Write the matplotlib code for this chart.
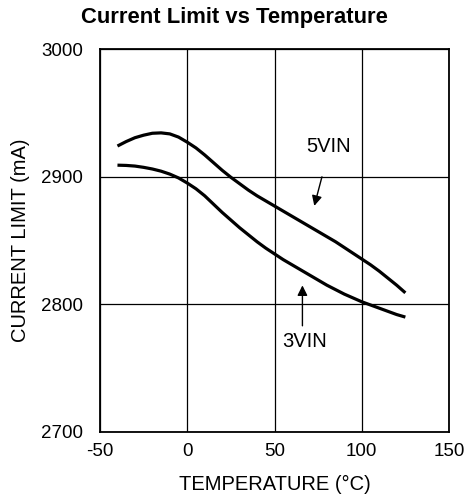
import matplotlib.pyplot as plt
import numpy as np

plt.rcParams['font.family'] = ['Liberation Sans', 'DejaVu Sans']
plt.rcParams['axes.unicode_minus'] = False

temp = [-40, -35, -30, -25, -20, -15, -10, -5, 0, 5, 10, 15, 20, 25, 30, 35, 40, 45,
        50, 55, 60, 65, 70, 75, 80, 85, 90, 95, 100, 105, 110, 115, 120, 125]
vin5 = [2924, 2927.5, 2930.5, 2932.5, 2934, 2934.3, 2933.5, 2931, 2927, 2922.5, 2917, 2911,
        2905, 2899.5, 2894.5, 2889.5, 2885, 2881, 2877, 2873, 2869, 2865, 2861, 2857, 2853,
        2849, 2844.5, 2840, 2835.5, 2831, 2826, 2820.5, 2815, 2809]
vin3 = [2909, 2908.8, 2908.3, 2907.3, 2906, 2904.3, 2902, 2899, 2895, 2890.5, 2885, 2878.5,
        2872, 2866, 2860, 2854.5, 2849, 2844, 2839.5, 2835, 2831, 2827, 2823, 2819, 2815,
        2811.5, 2808, 2805, 2802, 2799.5, 2797, 2794.5, 2792, 2790]
xticks = [-50, 0, 50, 100, 150]
yticks = [2700, 2800, 2900, 3000]

fig = plt.figure(figsize=(4.68, 4.99), dpi=100)
ax = fig.add_axes([0.2137, 0.1343, 0.7457, 0.7675])

ax.plot(temp, vin5, color="black", lw=2.3, solid_capstyle="butt")
ax.plot(temp, vin3, color="black", lw=2.3, solid_capstyle="butt")

ax.set_xlim(-50, 150)
ax.set_ylim(2700, 3000)
ax.set_xticks(xticks)
ax.set_yticks(yticks)
ax.grid(True, color="black", lw=0.9)
ax.tick_params(length=0, labelsize=13.5)
ax.tick_params(axis="y", pad=12)
ax.tick_params(axis="x", pad=8)
for s in ax.spines.values():
    s.set_linewidth(1.3)

ax.text(81, 2923.5, "5VIN", fontsize=14.5, ha="center", va="center")
ax.annotate("", xy=(72.4, 2875), xytext=(77.6, 2902),
            arrowprops=dict(arrowstyle="-|>", color="black", lw=1, mutation_scale=15))
ax.text(67, 2770.5, "3VIN", fontsize=14.5, ha="center", va="center")
ax.annotate("", xy=(66, 2817), xytext=(66, 2781),
            arrowprops=dict(arrowstyle="-|>", color="black", lw=1, mutation_scale=15))

ax.set_xlabel("TEMPERATURE (°C)", fontsize=14.5, labelpad=11)
ax.set_ylabel("CURRENT LIMIT (mA)", fontsize=14.5, labelpad=8)
fig.text(0.5, 1 - 18 / 499, "Current Limit vs Temperature", fontsize=15.8,
         fontweight="bold", ha="center", va="center")

fig.savefig("out.png", dpi=100)
